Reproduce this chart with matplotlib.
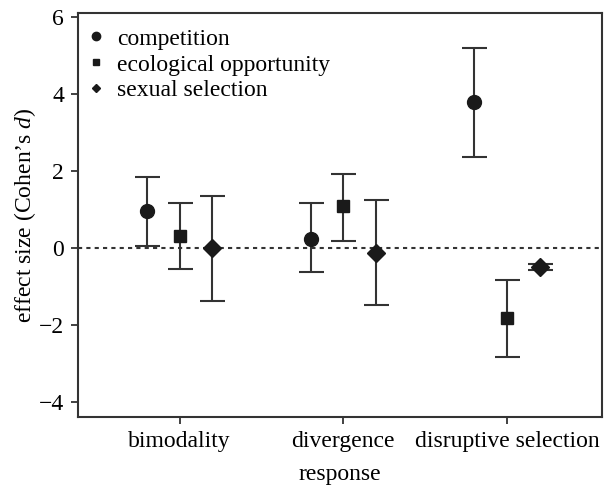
import matplotlib.pyplot as plt
from matplotlib.lines import Line2D

plt.rcParams['font.family'] = ['Liberation Serif', 'DejaVu Serif']
plt.rcParams['mathtext.fontset'] = 'custom'
plt.rcParams['mathtext.it'] = 'Liberation Serif:italic'
plt.rcParams['mathtext.rm'] = 'Liberation Serif'

responses = ['bimodality', 'divergence', 'disruptive selection']
groups = ['competition', 'ecological opportunity', 'sexual selection']
markers = ['o', 's', 'D']

# effect size, upper and lower limits per group, per response
effect = {
    'competition': [0.96, 0.23, 3.79],
    'ecological opportunity': [0.31, 1.09, -1.82],
    'sexual selection': [0.0, -0.13, -0.50],
}
upper = {
    'competition': [1.84, 1.17, 5.20],
    'ecological opportunity': [1.17, 1.92, -0.83],
    'sexual selection': [1.35, 1.25, -0.42],
}
lower = {
    'competition': [0.05, -0.62, 2.37],
    'ecological opportunity': [-0.55, 0.18, -2.83],
    'sexual selection': [-1.38, -1.50, -0.58],
}
offsets = [-0.2, 0.0, 0.2]

fig = plt.figure(figsize=(6.05, 4.86), dpi=100)
ax = fig.add_axes([0.129, 0.142, 0.866, 0.831])

edge = '#333333'
ax.axhline(0, color=edge, linestyle=(0, (2, 2)), linewidth=1.5, zorder=1)

sizes = {'o': 10, 's': 8, 'D': 9}
leg_sizes = {'o': 6, 's': 5, 'D': 4}
handles = []
for g, m, off in zip(groups, markers, offsets):
    xs = [i + 1 + off for i in range(len(responses))]
    ys = effect[g]
    err_lo = [y - l for y, l in zip(ys, lower[g])]
    err_hi = [u - y for y, u in zip(ys, upper[g])]
    ax.errorbar(xs, ys, yerr=[err_lo, err_hi], fmt=m, color='#1a1a1a',
                ecolor=edge, elinewidth=1.5, capsize=9, capthick=1.5,
                markersize=sizes[m], zorder=3)
    handles.append(Line2D([], [], marker=m, linestyle='none', color='#1a1a1a',
                          markersize=leg_sizes[m]))

ax.set_xlim(0.38, 3.58)
ax.set_ylim(-4.4, 6.1)
ax.set_xticks([1, 2, 3])
ax.set_xticklabels(responses, fontsize=17)
ax.set_yticks([-4, -2, 0, 2, 4, 6])
ax.set_yticklabels(['\u22124', '\u22122', '0', '2', '4', '6'], fontsize=17)
ax.tick_params(direction='out', length=5, width=1.3, color=edge, pad=5)
for s in ax.spines.values():
    s.set_color(edge)
    s.set_linewidth(1.5)

ax.set_xlabel('response', fontsize=17, labelpad=9)
ax.set_ylabel("effect size (Cohen\u2019s $\\mathit{d}$)", fontsize=17, labelpad=1)

ax.legend(handles, groups, loc='upper left', frameon=False, fontsize=17,
          handletextpad=0.27, labelspacing=0.18, borderaxespad=0,
          handlelength=1.2, borderpad=0, bbox_to_anchor=(0.0074, 0.9626))

fig.savefig('out.png', dpi=100)
